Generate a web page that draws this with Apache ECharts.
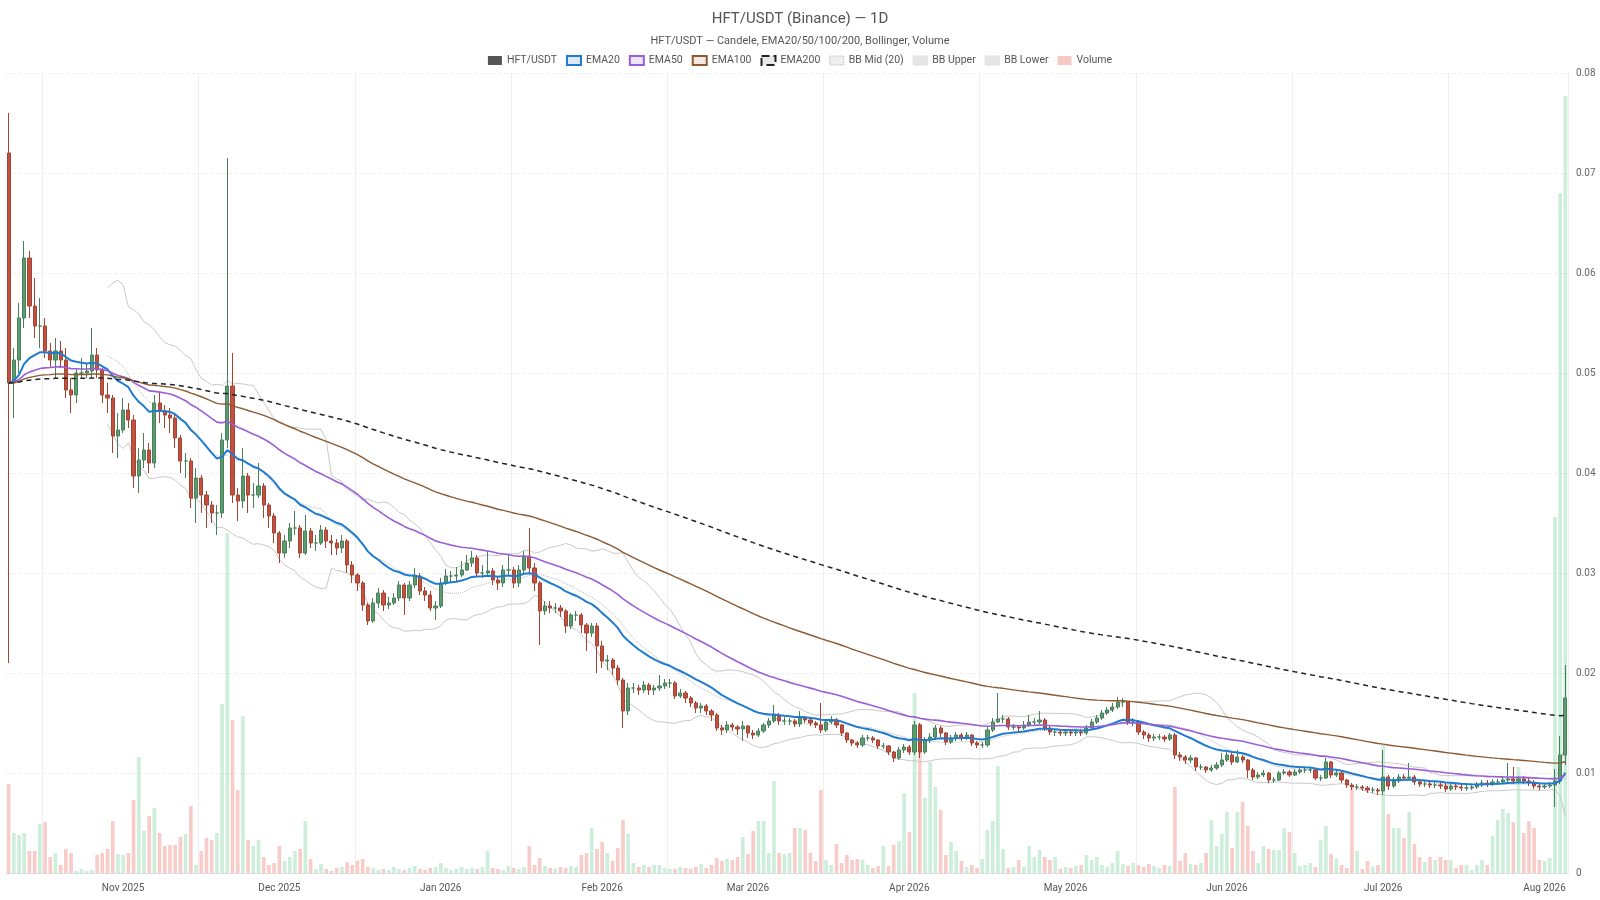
<!DOCTYPE html>
<html><head><meta charset="utf-8">
<script src="https://cdn.jsdelivr.net/npm/echarts@6/dist/echarts.min.js"></script>
<style>html,body{margin:0;padding:0;background:#fff}#c{width:1600px;height:900px}</style>
</head><body><div id="c"></div>
<script>
const startDate = '2025-10-10';
const firstOpen = 0.072;
const closes = [
.049,.0513,.0555,.0615,.0567,.0547,.0547,.0522,.0513,.0522,
.0513,.0483,.0478,.0500,.0500,.0502,.0518,.0503,.0478,.0475,
.0437,.0443,.0463,.0453,.0397,.0413,.0423,.0410,.0470,.0462,
.0458,.0455,.0435,.0412,.0412,.0375,.0395,.0378,.0368,.0360,
.0360,.0433,.0487,.0378,.0372,.0397,.0378,.0378,.0387,.0368,
.0357,.0340,.0320,.0332,.0345,.0345,.0320,.0342,.0330,.0330,
.0343,.0332,.0330,.0325,.0332,.0308,.0298,.0290,.0268,.0252,
.0270,.0280,.0268,.0270,.0275,.0288,.0275,.0288,.0297,.0282,
.0278,.0265,.0267,.0290,.0297,.0297,.0298,.0303,.0310,.0315,
.0300,.0300,.0302,.0293,.0290,.0303,.0303,.0290,.0303,.0317,
.0305,.0290,.0262,.0267,.0265,.0265,.0262,.0247,.0258,.0258,
.0248,.0240,.0247,.0227,.0212,.0213,.0205,.0193,.0162,.0185,
.0185,.0183,.0188,.0183,.0185,.0187,.0190,.0190,.0177,.0180,
.0175,.0170,.0165,.0167,.0162,.0158,.0145,.0143,.0148,.0146,
.0144,.0147,.0140,.0138,.0142,.0148,.0152,.0158,.0152,.0152,
.0152,.0149,.0155,.0153,.0150,.0148,.0143,.0151,.0153,.0148,
.0140,.0133,.0130,.0128,.0135,.0135,.0133,.0127,.0127,.0121,
.0115,.0123,.0126,.0121,.0148,.0121,.0133,.0136,.0145,.0140,
.0131,.0135,.0138,.0135,.0138,.0130,.0128,.0128,.0143,.0151,
.0154,.0154,.0146,.0146,.0145,.0148,.0151,.0151,.0153,.0145,
.0141,.0141,.0140,.0141,.0140,.0141,.0140,.0145,.0151,.0155,
.0160,.0163,.0166,.0171,.0171,.0151,.0151,.0141,.0138,.0135,
.0136,.0136,.0134,.0138,.0118,.0116,.0113,.0115,.0106,.0106,
.0103,.0105,.0108,.0113,.0118,.0111,.0116,.0113,.0103,.0096,
.0098,.0100,.0093,.0093,.0100,.0101,.0098,.0101,.0103,.0103,
.0103,.0095,.0095,.0111,.0098,.0100,.0093,.0088,.0086,.0086,
.0085,.0083,.0083,.0082,.0096,.0087,.0092,.0096,.0095,.0096,
.0091,.0089,.0089,.0088,.0088,.0087,.0084,.0087,.0086,.0085,
.0085,.0086,.0088,.0090,.0089,.0091,.0091,.0093,.0094,.0092,
.0094,.0092,.0090,.0087,.0086,.0087,.0088,.0092,.0118,.0175];
const highs = [
.076,.0525,.057,.0632,.0622,.0595,.0575,.0555,.053,.0535,
.0532,.0525,.0495,.0505,.0515,.051,.0545,.0525,.0505,.049,
.0478,.046,.0475,.047,.0458,.0425,.044,.043,.0478,.048,
.0468,.0465,.0458,.0438,.042,.0415,.0405,.0398,.0382,.0372,
.0368,.044,.0715,.052,.0385,.0425,.040,.039,.041,.039,
.037,.036,.0342,.0338,.035,.0362,.0348,.0358,.0345,.0338,
.0348,.0346,.0338,.0334,.0338,.0334,.0312,.030,.0292,.027,
.0275,.0285,.0283,.0276,.028,.0292,.029,.0292,.0305,.030,
.0286,.0282,.0272,.0295,.0304,.0302,.0306,.0312,.0318,.0322,
.0318,.0308,.0322,.0305,.0296,.0308,.0318,.0306,.0308,.0322,
.0345,.031,.0292,.0272,.0272,.027,.0268,.0264,.026,.0262,
.026,.025,.025,.025,.0232,.0218,.0215,.0208,.0195,.019,
.019,.0188,.0192,.019,.0188,.0198,.0194,.0194,.0192,.0184,
.0182,.0177,.0172,.017,.0169,.0164,.016,.0148,.0152,.015,
.0148,.0152,.0148,.0143,.0145,.015,.0155,.0168,.016,.0156,
.0155,.0154,.0162,.0157,.0155,.0152,.017,.0154,.0157,.0155,
.0149,.0141,.0134,.0132,.0138,.0138,.0137,.0134,.013,.0128,
.0122,.0126,.0129,.0128,.0152,.015,.0136,.014,.0148,.0147,
.0141,.0138,.0141,.014,.0141,.0139,.0132,.0131,.0146,.0155,
.018,.0158,.0156,.0149,.0148,.0152,.0158,.0155,.0162,.0155,
.0147,.0144,.0144,.0144,.0144,.0144,.0144,.0148,.0154,.0158,
.0163,.0166,.017,.0176,.0175,.0172,.0155,.0153,.0143,.014,
.0139,.0139,.0138,.014,.014,.0121,.0118,.0118,.0116,.0109,
.0107,.0108,.0111,.012,.0121,.012,.0123,.0118,.0114,.0105,
.0101,.0103,.0101,.0096,.0102,.0104,.0103,.0104,.0107,.0106,
.0106,.0104,.0098,.0115,.0112,.0103,.0101,.0094,.009,.0089,
.0088,.0087,.0086,.0085,.0123,.0098,.0096,.0099,.0099,.011,
.0098,.0094,.0092,.0092,.0091,.0091,.009,.009,.009,.0089,
.0088,.0089,.0091,.0093,.0093,.0094,.0094,.0096,.011,.0106,
.0097,.0097,.0095,.0093,.009,.009,.0091,.0104,.0137,.0208];
const lows = [
.021,.0455,.050,.0545,.0555,.0535,.0525,.0515,.0505,.0495,
.0505,.0475,.046,.047,.0495,.0495,.0495,.0495,.047,.046,
.042,.0415,.044,.0445,.0385,.038,.0405,.040,.0405,.045,
.0445,.044,.0425,.040,.0395,.0365,.035,.036,.0345,.035,
.0338,.0355,.0425,.037,.0352,.0365,.036,.0365,.0375,.0355,
.0345,.033,.031,.0315,.0325,.0338,.0315,.0318,.0325,.0322,
.0328,.0325,.0318,.0318,.032,.030,.029,.0282,.0262,.0248,
.025,.0265,.0262,.0264,.0268,.0272,.0258,.0272,.0285,.0278,
.0272,.0262,.0253,.0265,.0288,.029,.0292,.0296,.0302,.0306,
.0296,.0295,.0296,.0288,.0283,.0286,.0298,.0285,.0286,.030,
.030,.0282,.0228,.0258,.026,.026,.0256,.024,.0244,.0252,
.024,.0222,.0236,.020,.0205,.0203,.0198,.0188,.0145,.0158,
.018,.0178,.018,.0178,.0178,.0182,.0184,.0185,.0174,.0175,
.017,.0166,.016,.016,.0158,.0152,.0142,.0138,.014,.0142,
.0138,.0132,.0135,.0134,.0136,.014,.0145,.015,.0148,.0148,
.0148,.0146,.0146,.015,.0147,.0145,.014,.0141,.0149,.0145,
.0137,.013,.0127,.0125,.0126,.0132,.013,.0124,.0124,.0118,
.0111,.0113,.012,.0118,.0118,.0115,.0119,.013,.0133,.0136,
.0128,.0129,.0132,.0132,.0133,.0127,.0125,.0125,.0126,.0141,
.015,.015,.0143,.0143,.0141,.0143,.0146,.0147,.0149,.0142,
.0138,.0137,.0137,.0137,.0137,.0137,.0137,.0138,.0143,.0149,
.0153,.0158,.0161,.0164,.0166,.0148,.0147,.0138,.0134,.0131,
.0132,.0133,.0131,.0132,.0114,.0112,.0109,.011,.0102,.0103,
.010,.0101,.0103,.0106,.0111,.0108,.011,.011,.0095,.0093,
.0094,.0096,.009,.009,.0092,.0098,.0096,.0097,.0099,.010,
.010,.0093,.0092,.0094,.0095,.0096,.009,.0085,.0083,.0083,
.0082,.008,.008,.0078,.0078,.0083,.0085,.009,.0092,.0093,
.0088,.0086,.0086,.0085,.0085,.0084,.0081,.0082,.0083,.0082,
.0082,.0083,.0084,.0086,.0086,.0087,.0088,.0089,.009,.0089,
.009,.0089,.0087,.0084,.0083,.0084,.0085,.0066,.0089,.0108];
const volumes = [
8.9,4.0,3.8,4.0,2.2,2.2,4.9,5.1,1.6,2.0,
0.8,2.4,2.0,0.2,0.4,0.2,0.3,1.8,2.0,2.4,
5.2,1.9,1.8,2.0,7.3,11.6,4.2,5.7,6.5,4.0,
2.7,2.8,2.8,3.6,3.9,6.7,0.8,2.2,3.5,3.3,
4.0,16.9,34,15.3,8.3,15.7,3.3,2.7,3.3,1.6,
0.8,1.0,2.7,1.2,1.6,2.2,2.4,5.2,1.4,0.4,
0.9,0.4,0.2,0.5,0.6,1.1,0.8,1.2,1.4,0.6,
0.5,0.3,0.4,0.3,0.6,0.4,0.3,0.5,0.7,0.4,
0.3,0.5,0.6,1.0,0.5,0.3,0.4,0.6,0.4,0.5,
0.4,0.6,2.2,0.5,0.4,0.3,0.7,0.5,0.4,0.6,
2.7,0.8,1.5,0.7,0.5,0.4,0.6,0.5,0.7,0.6,
1.8,2.0,4.5,2.4,3.1,2.0,1.2,2.5,5.3,3.9,
1.0,0.6,0.8,0.6,0.8,0.8,0.5,0.4,0.4,0.6,
0.5,0.4,0.6,0.9,0.5,0.8,1.5,1.2,1.4,1.3,
1.6,3.6,1.9,4.2,5.2,5.2,2.0,9.2,2.0,1.9,
2.0,4.5,4.5,4.3,2.0,1.2,8.3,1.3,0.8,2.9,
1.0,1.8,1.3,1.4,1.3,0.8,0.5,0.7,2.7,0.7,
2.8,3.2,8.0,4.1,18,15,7.5,11.1,8.6,6.3,
1.8,3.1,2.2,1.2,0.6,0.8,0.5,1.4,4.3,5.2,
10.7,2.4,0.5,0.6,1.3,0.6,2.7,1.6,2.3,1.6,
1.3,1.6,0.4,0.6,0.5,0.7,0.8,1.8,1.3,1.6,
0.8,0.6,1.0,2.2,0.9,0.7,1.0,0.8,0.6,0.9,
0.7,0.5,0.8,0.7,8.6,1.2,2.0,0.9,0.8,1.0,
2.0,5.3,2.7,3.9,6.1,2.5,6.1,7.1,4.7,2.2,
1.0,2.7,2.4,2.3,2.3,4.5,4.1,2.0,0.7,0.8,
1.0,0.6,3.3,4.7,1.9,1.4,0.8,0.5,8.4,2.2,
0.4,1.2,0.6,0.8,12.8,5.9,4.5,4.5,3.5,6.1,
2.9,1.6,1.1,1.6,1.3,1.6,1.3,1.3,0.5,0.8,
0.8,0.3,0.8,1.3,0.8,3.7,5.3,6.4,6.0,5.1,
10.6,4.0,5.2,4.5,1.3,1.2,1.5,35.6,68,77.7];
const monthNames = ['Jan','Feb','Mar','Apr','May','Jun','Jul','Aug','Sep','Oct','Nov','Dec'];

const N = closes.length;
const dates = [];
{ const d0 = new Date(startDate + 'T00:00:00Z');
  for (let i = 0; i < N; i++) { const d = new Date(d0.getTime() + i*86400000); dates.push(d.toISOString().slice(0,10)); } }
const opens = closes.map((c,i) => i === 0 ? firstOpen : closes[i-1]);
const candles = closes.map((c,i) => [opens[i], c, lows[i], highs[i]]);
function ema(n){ const k=2/(n+1); const out=[]; let e=closes[0]; for(let i=0;i<N;i++){ e = i===0?closes[0]:closes[i]*k+e*(1-k); out.push(+e.toFixed(6)); } return out; }
const mid=[],up=[],lo=[];
for(let i=0;i<N;i++){ if(i<19){mid.push('-');up.push('-');lo.push('-');continue;}
  const s=closes.slice(i-19,i+1); const m=s.reduce((a,b)=>a+b,0)/20; const sd=Math.sqrt(s.reduce((a,b)=>a+(b-m)*(b-m),0)/20);
  mid.push(+m.toFixed(6)); up.push(+(m+2*sd).toFixed(6)); lo.push(+(m-2*sd).toFixed(6)); }
const volData = volumes.map((v,i)=>({value:v, itemStyle:{color: closes[i]>=opens[i] ? 'rgba(110,205,150,0.35)' : 'rgba(235,110,100,0.35)'}}));

const FONT = "Roboto, sans-serif";
const chart = echarts.init(document.getElementById('c'));
const lineBase = {type:'line', symbol:'none', smooth:false, z:3};
chart.setOption({
  animation:false,
  title:{text:'HFT/USDT (Binance) — 1D', subtext:'HFT/USDT — Candele, EMA20/50/100/200, Bollinger, Volume', left:'center', top:7,
    textStyle:{fontSize:15, fontWeight:'normal', color:'#555', fontFamily:FONT}, subtextStyle:{fontSize:11, color:'#555', fontFamily:FONT}, itemGap:9},
  legend:{top:50, left:'center', itemWidth:14, itemHeight:9, itemGap:9, icon:'rect', textStyle:{fontSize:10.5,color:'#555',fontFamily:FONT},
    data:[
      {name:'HFT/USDT', itemStyle:{color:'#555', borderWidth:0}},
      {name:'EMA20', itemStyle:{color:'#dce8f4', borderColor:'#1f7bd0', borderWidth:2}},
      {name:'EMA50', itemStyle:{color:'#ece4f7', borderColor:'#9a5fd8', borderWidth:2}},
      {name:'EMA100', itemStyle:{color:'#f3e7de', borderColor:'#8c5a32', borderWidth:2}},
      {name:'EMA200', itemStyle:{color:'#e8e8e8', borderColor:'#222', borderWidth:2, borderType:'dashed'}},
      {name:'BB Mid (20)', itemStyle:{color:'#eeeeee', borderColor:'#bbb', borderWidth:1, borderType:'dotted'}},
      {name:'BB Upper', itemStyle:{color:'#e6e6e6', borderColor:'#ddd', borderWidth:1}},
      {name:'BB Lower', itemStyle:{color:'#e6e6e6', borderColor:'#ddd', borderWidth:1}},
      {name:'Volume', itemStyle:{color:'#f6c9c2', borderWidth:0}}
    ]},
  grid:{left:6, right:32, top:73, bottom:27},
  xAxis:{type:'category', data:dates, boundaryGap:true,
    axisLine:{lineStyle:{color:'#ddd'}}, axisTick:{show:false},
    axisLabel:{interval:(i,v)=>v.slice(8)==='01', formatter:v=>monthNames[+v.slice(5,7)-1]+' '+v.slice(0,4), color:'#555', fontSize:10, fontFamily:FONT, margin:10},
    splitLine:{show:true, interval:(i)=>(i-7)%30===0, lineStyle:{color:'#eee'}}},
  yAxis:[{type:'value', position:'right', min:0, max:0.08, interval:0.01,
    axisLabel:{color:'#666', fontSize:10, fontFamily:FONT, margin:8},
    splitLine:{lineStyle:{color:'#f0f0f0', type:'dashed'}}, axisLine:{show:false}},
    {type:'value', min:0, max:80, show:false, splitLine:{show:false}}],
  series:[
    {name:'Volume', type:'bar', yAxisIndex:1, data:volData, barWidth:'70%', z:1},
    {name:'BB Upper', ...lineBase, data:up, lineStyle:{color:'#c8c8c8', width:1}, itemStyle:{color:'#e6e6e6'}},
    {name:'BB Lower', ...lineBase, data:lo, lineStyle:{color:'#c8c8c8', width:1}, itemStyle:{color:'#e6e6e6'}},
    {name:'BB Mid (20)', ...lineBase, data:mid, lineStyle:{color:'#b5b5b5', width:1, type:'dotted'}, itemStyle:{color:'#ddd'}},
    {name:'HFT/USDT', type:'candlestick', data:candles, barWidth:'70%', z:4,
      itemStyle:{color:'#5a9e70', color0:'#c4513f', borderColor:'#4a7f5c', borderColor0:'#a04434', borderWidth:1}},
    {name:'EMA20', ...lineBase, z:5, data:ema(20), lineStyle:{color:'#1f7bd0', width:2}, itemStyle:{color:'#1f7bd0'}},
    {name:'EMA50', ...lineBase, z:5, data:ema(50), lineStyle:{color:'#9a5fd8', width:1.6}, itemStyle:{color:'#9a5fd8'}},
    {name:'EMA100', ...lineBase, z:5, data:ema(100), lineStyle:{color:'#8c5a32', width:1.4}, itemStyle:{color:'#8c5a32'}},
    {name:'EMA200', ...lineBase, z:5, data:ema(200), lineStyle:{color:'#222', width:1.5, type:[5,4]}, itemStyle:{color:'#222'}}
  ]
});
</script></body></html>
